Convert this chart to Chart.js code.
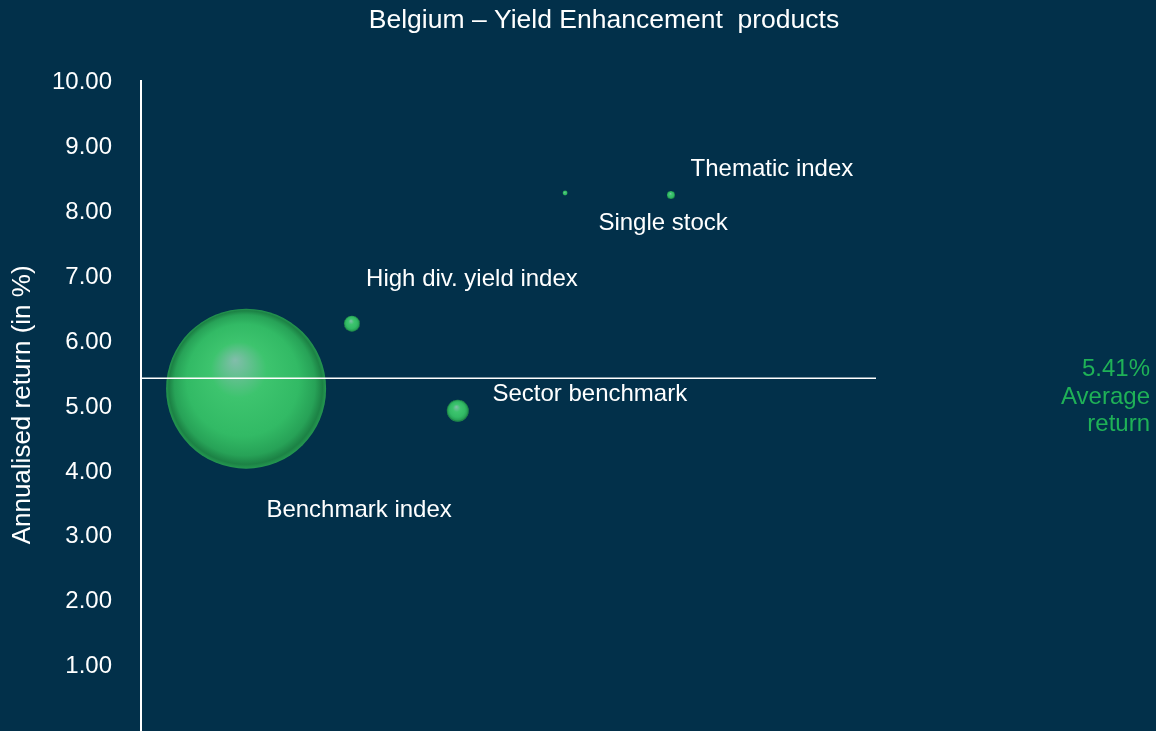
<!DOCTYPE html>
<html>
<head>
<meta charset="utf-8">
<title>Belgium – Yield Enhancement products</title>
<script src="https://cdn.jsdelivr.net/npm/chart.js@4.4.0/dist/chart.umd.js"></script>
<style>
  html, body { margin: 0; padding: 0; background: #02304a; overflow: hidden; }
  #wrap { width: 1156px; height: 731px; }
</style>
</head>
<body>
<div id="wrap"><canvas id="chart" width="1156" height="731"></canvas></div>
<script>
// data
const products = ['Benchmark index', 'High div. yield index', 'Sector benchmark', 'Single stock', 'Thematic index'];
const risk = [1.43, 2.87, 4.31, 5.77, 7.21];          // x axis (hidden)
const annualReturn = [5.25, 6.25, 4.91, 8.26, 8.23];  // y axis, in %
const volume = [1600, 16, 30, 1.5, 4];                // bubble size
const averageReturn = 5.41;
const yTicks = [0, 1, 2, 3, 4, 5, 6, 7, 8, 9, 10];

// label placement, relative to bubble centre (px)
const labelOffsets = [[113, 122], [120, -44], [132, -16], [98, 30], [101, -26]];

const FONT = '"Liberation Sans", Arial, sans-serif';
const bubbleRadius = v => 2 * Math.sqrt(v);

const sphereFill = (ctx) => {
  const chart = ctx.chart;
  const raw = ctx.raw;
  if (!raw || !chart.scales.x || !chart.scales.y) return '#33bd66';
  const cx = chart.scales.x.getPixelForValue(raw.x);
  const cy = chart.scales.y.getPixelForValue(raw.y);
  const r = raw.r || 1;
  if (!isFinite(cx) || !isFinite(cy)) return '#33bd66';
  const g = chart.ctx.createRadialGradient(cx - 0.14 * r, cy - 0.36 * r, 0, cx, cy, r);
  g.addColorStop(0, '#82bdab');
  g.addColorStop(0.35, '#3dc46e');
  g.addColorStop(0.7, '#32ba65');
  g.addColorStop(0.88, '#27a257');
  g.addColorStop(0.96, '#1c8245');
  g.addColorStop(1, '#249850');
  return g;
};

const textPlugin = {
  id: 'texts',
  afterDatasetsDraw(chart) {
    const { ctx, chartArea, scales } = chart;
    const yAvg = scales.y.getPixelForValue(averageReturn);
    ctx.save();
    // average line
    ctx.strokeStyle = '#ffffff';
    ctx.lineWidth = 1.5;
    ctx.beginPath();
    ctx.moveTo(chartArea.left, yAvg);
    ctx.lineTo(chartArea.right, yAvg);
    ctx.stroke();
    // y axis line
    ctx.lineWidth = 2;
    ctx.beginPath();
    ctx.moveTo(chartArea.left, chartArea.top);
    ctx.lineTo(chartArea.left, chart.height);
    ctx.stroke();

    ctx.fillStyle = '#ffffff';
    ctx.textAlign = 'center';
    ctx.textBaseline = 'middle';
    ctx.font = '26.5px ' + FONT;
    ctx.fillText('Belgium \u2013 Yield Enhancement  products', 604, 21);

    ctx.font = '24px ' + FONT;
    products.forEach((name, i) => {
      const px = scales.x.getPixelForValue(risk[i]);
      const py = scales.y.getPixelForValue(annualReturn[i]);
      ctx.fillText(name, px + labelOffsets[i][0], py + labelOffsets[i][1]);
    });

    ctx.fillStyle = '#1fb157';
    ctx.textAlign = 'right';
    ctx.fillText(averageReturn.toFixed(2) + '%', 1150, yAvg - 9);
    ctx.fillText('Average', 1150, yAvg + 19);
    ctx.fillText('return', 1150, yAvg + 46);
    ctx.restore();
  }
};

new Chart(document.getElementById('chart'), {
  type: 'bubble',
  data: {
    datasets: [{
      label: 'Products',
      data: products.map((p, i) => ({ x: risk[i], y: annualReturn[i], r: bubbleRadius(volume[i]) })),
      backgroundColor: sphereFill,
      borderWidth: 0,
      hoverBorderWidth: 0,
      clip: false
    }]
  },
  options: {
    responsive: false,
    animation: false,
    events: [],
    layout: { autoPadding: false, padding: { top: 80, right: 280, bottom: 0, left: 0 } },
    plugins: { legend: { display: false }, tooltip: { enabled: false }, title: { display: false } },
    scales: {
      x: { type: 'linear', min: 0, max: 10, display: false },
      y: {
        type: 'linear',
        min: 0,
        max: 10,
        afterFit: (scale) => { scale.width = 141; },
        afterBuildTicks: (scale) => { scale.ticks = yTicks.map(v => ({ value: v })); },
        border: { display: false },
        grid: { display: false, drawTicks: true, tickLength: 29 },
        ticks: {
          color: '#ffffff',
          padding: 0,
          labelOffset: 2,
          font: { family: FONT, size: 24, lineHeight: 0.1 },
          callback: (v) => v === 0 ? '' : v.toFixed(2)
        },
        title: {
          display: true,
          text: 'Annualised return (in %)',
          color: '#ffffff',
          font: { family: FONT, size: 26 },
          padding: { top: 7, bottom: 0 }
        }
      }
    }
  },
  plugins: [textPlugin]
});
</script>
</body>
</html>
